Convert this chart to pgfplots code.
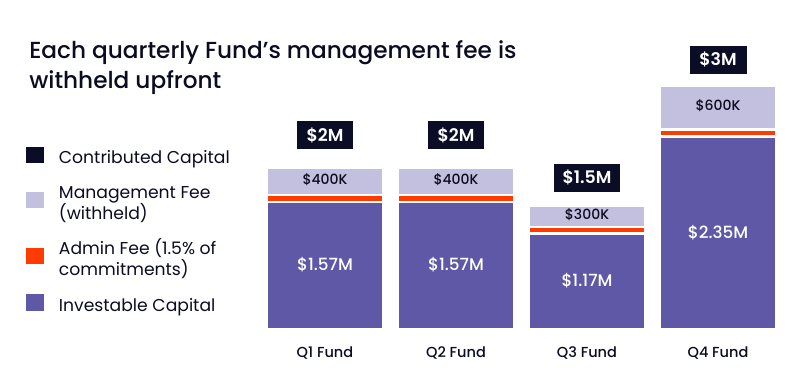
\documentclass[border=0pt]{standalone}
\usepackage{fontspec}
\setmainfont{Poppins}
\newfontfamily\pmed{Poppins Medium}
\newfontfamily\psemi{Poppins SemiBold}
\usepackage{pgfplots}
\pgfplotsset{compat=1.18}
\usepackage{pgfplotstable}
\definecolor{navy}{HTML}{0A0D25}
\definecolor{lav}{HTML}{C3BFDE}
\definecolor{orng}{HTML}{FF3B00}
\definecolor{purp}{HTML}{5F58A6}
\definecolor{txt}{HTML}{0B0C22}
\pgfplotstableread{
x inv adm mgt
0 1.586 0.083 0.345
1 1.586 0.083 0.345
2 1.193 0.078 0.266
3 2.397 0.090 0.545
}\fundtable
\newcommand\legfirst[1]{\rule{0pt}{10pt}\smash{#1}}
\newcommand\leglast[1]{\smash{#1}\rule[-3.75pt]{0pt}{3.75pt}}
\newcommand\legone[1]{\rule[-3.75pt]{0pt}{13.75pt}\smash{#1}}
\pgfplotsset{sq/.style={legend image code/.code={\path[##1,draw=none] (0pt,-3.75pt) rectangle (13.5pt,8.6pt);}}}
\begin{document}
\begin{tikzpicture}
\path[use as bounding box, fill=white] (0pt,0pt) rectangle (600.75pt,293.25pt);
\node[anchor=base west, inner sep=0pt, font=\pmed\fontsize{17.4}{22.5}\selectfont, text=txt] at (21.75pt,249pt) {Each quarterly Fund’s management fee is};
\node[anchor=base west, inner sep=0pt, font=\pmed\fontsize{17.4}{22.5}\selectfont, text=txt] at (21.75pt,226.5pt) {withheld upfront};
\begin{axis}[
  at={(194.625pt,46.54pt)}, anchor=south west,
  scale only axis, width=393pt, height=216.5pt,
  xmin=-0.5, xmax=3.5, ymin=0, ymax=3.6,
  ybar stacked, bar width=87.4pt,
  axis line style={draw=none}, major tick length=0pt,
  ytick=\empty, xtick={0,1,2,3},
  xticklabels={Q1 Fund,Q2 Fund,Q3 Fund,Q4 Fund},
  xticklabel style={font=\pmed\fontsize{10.9}{13}\selectfont, text=txt, anchor=base, yshift=-21.3pt},
  clip=false,
  reverse legend,
  legend style={at={(-0.4466,0.6327)}, anchor=north west, draw=none, fill=none,
    inner sep=0pt, row sep=10.7pt, font=\fontsize{12.9}{15.75}\selectfont, text=txt,
    cells={align=left}, /tikz/every odd column/.append style={column sep=9.4pt}},
  legend cell align=left,
]
\addplot[fill=purp, draw=white, line width=1.875pt, sq] table[x=x,y=inv]{\fundtable};
\addlegendentry{\legone{Investable Capital}}
\addplot[fill=orng, draw=white, line width=1.875pt, sq] table[x=x,y=adm]{\fundtable};
\addlegendentry{\legfirst{Admin Fee (1.5\% of}\\\leglast{commitments)}}
\addplot[fill=lav, draw=white, line width=1.875pt, sq] table[x=x,y=mgt]{\fundtable};
\addlegendentry{\legfirst{Management Fee}\\\leglast{(withheld)}}
\addlegendimage{fill=navy, sq}
\addlegendentry{\legone{Contributed Capital}}
\coordinate (i0) at (axis cs:0,0.80);
\coordinate (i1) at (axis cs:1,0.80);
\coordinate (i2) at (axis cs:2,0.604);
\coordinate (i3) at (axis cs:3,1.206);
\coordinate (m0) at (axis cs:0,1.86);
\coordinate (m1) at (axis cs:1,1.86);
\coordinate (m2) at (axis cs:2,1.421);
\coordinate (m3) at (axis cs:3,2.782);
\coordinate (t0) at (axis cs:0,2.418);
\coordinate (t1) at (axis cs:1,2.418);
\coordinate (t2) at (axis cs:2,1.888);
\coordinate (t3) at (axis cs:3,3.357);
\end{axis}
\begin{scope}[every node/.style={font=\pmed\fontsize{12.6}{14}\selectfont, text=white}]
\node at (i0) {\$1.57M};
\node at (i1) {\$1.57M};
\node at (i2) {\$1.17M};
\node at (i3) {\$2.35M};
\end{scope}
\begin{scope}[every node/.style={font=\pmed\fontsize{10.5}{12}\selectfont, text=txt}]
\node at (m0) {\$400K};
\node at (m1) {\$400K};
\node at (m2) {\$300K};
\node at (m3) {\$600K};
\end{scope}
\begin{scope}[every node/.style={fill=navy, text=white, font=\psemi\fontsize{13}{15}\selectfont, inner xsep=0pt, minimum height=21pt}]
\node[minimum width=42pt] at (t0) {\$2M};
\node[minimum width=42pt] at (t1) {\$2M};
\node[minimum width=49.5pt] at (t2) {\$1.5M};
\node[minimum width=42.75pt] at (t3) {\$3M};
\end{scope}
\end{tikzpicture}
\end{document}
